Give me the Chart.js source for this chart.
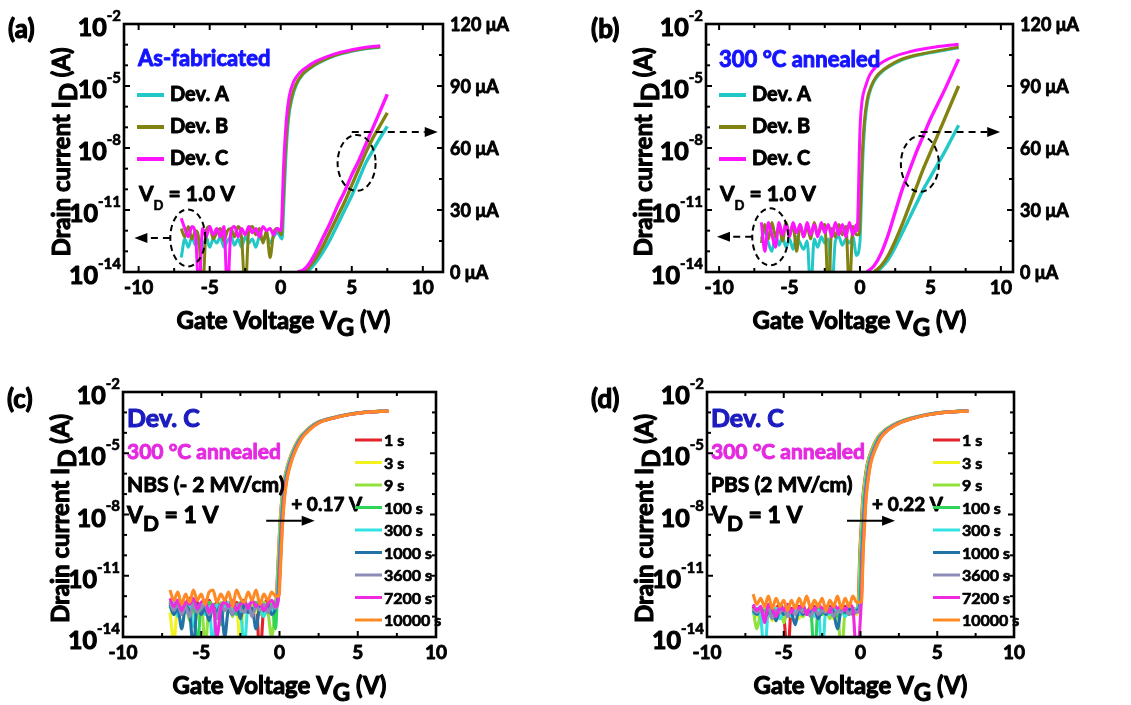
<!DOCTYPE html>
<html>
<head>
<meta charset="utf-8">
<script src="https://cdn.jsdelivr.net/npm/chart.js@4.4.1/dist/chart.umd.min.js"></script>
<style>
  body { margin: 0; background: #fff; width: 1131px; height: 705px; overflow: hidden; position: relative; }
  canvas { position: absolute; }
</style>
</head>
<body>
<canvas id="pa" width="565" height="345" style="left:0;top:0"></canvas>
<canvas id="pb" width="566" height="345" style="left:565px;top:0"></canvas>
<canvas id="pc" width="565" height="360" style="left:0;top:345px"></canvas>
<canvas id="pd" width="566" height="360" style="left:565px;top:345px"></canvas>
<script>
// ---- data (currents on the log axis are written as log10(I / A)) ----
const vOff = [-7,-6.75,-6.5,-6.25,-6,-5.75,-5.5,-5.25,-5,-4.75,-4.5,-4.25,-4,-3.75,
              -3.5,-3.25,-3,-2.75,-2.5,-2.25,-2,-1.75,-1.5,-1.25,-1,-0.75,-0.5,-0.25]

const xTickLabels = [-10, -5, 0, 5, 10]
const xMinorTicks = [-7.5, -2.5, 2.5, 7.5]
const yTickExps = [-14, -11, -8, -5, -2]
const rightTickLabels = [0, 30, 60, 90, 120]

const devNames = ['Dev. A', 'Dev. B', 'Dev. C']
const devColors = ['#22c8c8', '#828210', '#ff14ff']

// (a) as-fabricated
const offA = [
  [-13.3,-12.4,-12.8,-12.3,-12.7,-12.4,-12.9,-12.3,-12.8,-12.4,-12.6,-12.3,-12.8,-12.5,
   -12.3,-12.7,-12.4,-12.8,-12.3,-12.6,-12.4,-12.8,-12.3,-12.5,-12.2,-12.6,-12.3,-12.1],
  [-11.9,-12.3,-11.8,-12.4,-12.0,-12.5,-15,-12.0,-11.8,-12.4,-12.1,-11.9,-12.5,-12.0,
   -11.9,-12.3,-11.8,-12.4,-15,-12.0,-11.8,-12.2,-11.9,-12.6,-12.0,-13.3,-12.1,-11.9],
  [-11.4,-11.9,-12.3,-11.8,-12.2,-15,-11.9,-12.3,-11.8,-12.2,-11.9,-12.3,-11.8,-15,
   -12.0,-11.8,-12.3,-11.9,-12.2,-11.8,-12.1,-11.9,-12.3,-11.8,-12.0,-11.9,-12.2,-11.9]
]
const onVA = [
  [0.1,0.2,0.35,0.55,0.8,1.1,1.55,2.05,2.75,3.85,5.0,6.0,7.0],
  [0.05,0.15,0.3,0.5,0.75,1.05,1.5,2.0,2.7,3.8,5.0,6.0,7.0],
  [0,0.05,0.2,0.4,0.6,0.9,1.35,1.8,2.5,3.7,5.0,6.0,7.0]
]
const onLogA = [
  [-12.4,-11.0,-8.6,-6.6,-5.6,-4.95,-4.45,-4.15,-3.86,-3.53,-3.32,-3.2,-3.12],
  [-12.2,-11.0,-8.6,-6.6,-5.6,-4.95,-4.45,-4.15,-3.85,-3.52,-3.3,-3.18,-3.1],
  [-12.0,-11.8,-8.9,-6.6,-5.5,-4.8,-4.35,-4.1,-3.8,-3.47,-3.25,-3.13,-3.05]
]
const linVA = [
  [1.8,2.0,2.5,3.0,3.5,4.0,4.5,5.0,5.5,6.0,6.5,7.0,7.5],
  [1.7,2.0,2.5,3.0,3.5,4.0,4.5,5.0,5.5,6.0,6.5,7.0,7.5],
  [1.2,1.6,2.0,2.5,3.0,3.5,4.0,4.5,5.0,5.5,6.0,6.5,7.0,7.5]
]
const linIA = [   // uA
  [0,1,5,10,16,23,30,37,45,53,59,65,70.5],
  [0,2.5,7,13,20,27,34,42,50,58,65,71,77],
  [0,1,4,10,17,24,32,39,47,54,62,70,78,86]
]

// (b) 300 C annealed
const offB = [
  [-12.4,-12.0,-12.6,-13.0,-12.2,-12.7,-12.3,-12.8,-12.4,-12.9,-12.3,-12.6,-12.9,-12.5,
   -15,-12.4,-12.8,-12.3,-12.6,-12.4,-15,-12.5,-12.3,-12.7,-12.4,-12.6,-12.3,-13.2],
  [-12.6,-11.7,-12.4,-11.6,-12.3,-11.8,-12.5,-11.6,-12.2,-11.7,-13.0,-11.7,-12.3,-11.8,
   -12.4,-11.6,-12.2,-11.8,-11.7,-15,-11.9,-12.3,-11.7,-12.2,-11.8,-15,-11.8,-12.2],
  [-11.6,-13.0,-11.6,-12.2,-12.8,-11.6,-12.2,-11.7,-12.3,-11.6,-12.1,-11.7,-12.3,-11.6,
   -12.2,-11.7,-12.3,-11.6,-12.1,-11.7,-12.3,-11.6,-12.2,-11.7,-12.3,-11.6,-12.2,-11.7]
]
const onVB = [
  [0.0,0.1,0.2,0.35,0.55,0.85,1.15,1.55,2.05,2.85,4.0,5.5,7.0],
  [-0.05,0.05,0.15,0.3,0.5,0.8,1.1,1.5,2.0,2.8,4.0,5.5,7.0],
  [-0.2,-0.12,-0.05,0.02,0.15,0.4,0.7,1.1,1.7,2.4,3.5,5.0,7.0]
]
const onLogB = [
  [-12.5,-10.5,-8.5,-6.8,-5.7,-5.0,-4.62,-4.32,-4.07,-3.78,-3.53,-3.33,-3.15],
  [-12.2,-10.5,-8.5,-6.8,-5.7,-5.0,-4.6,-4.3,-4.05,-3.75,-3.5,-3.3,-3.12],
  [-12.0,-10.5,-8.3,-6.8,-5.7,-5.0,-4.45,-4.1,-3.8,-3.58,-3.35,-3.15,-2.98]
]
const linVB = [
  [1.2,1.5,2.0,2.5,3.0,3.5,4.0,4.5,5.0,5.5,6.0,6.5,7.0],
  [1.0,1.5,2.0,2.5,3.0,3.5,4.0,4.5,5.0,5.5,6.0,6.5,7.0],
  [0.5,1.0,1.5,2.0,2.5,3.0,3.5,4.0,4.5,5.0,5.5,6.0,6.5,7.0]
]
const linIB = [
  [0,2,6,12,19,26,33,40,46,52,58,64.5,71],
  [0,3,8,15,23,32,41,50,58,66,74,82,90],
  [0,3,9,18,29,40,49,58,66,74,81,88,95.5,103]
]

// (c)/(d) bias stress on Dev. C
const stressTimes = ['1 s', '3 s', '9 s', '100 s', '300 s', '1000 s', '3600 s', '7200 s', '10000 s']
const stressColors = ['#e3222a', '#f2f21e', '#92e03c', '#2fd45a', '#32e2e2', '#2272a8', '#8c8cb6', '#f02ae0', '#ff8a24']
const shiftNBS = [0, 0.02, 0.04, 0.06, 0.08, 0.10, 0.13, 0.15, 0.17]   // V, threshold shift
const shiftPBS = [0, 0.03, 0.05, 0.08, 0.11, 0.14, 0.17, 0.20, 0.22]

const onVC = [-0.2,-0.12,-0.04,0.04,0.18,0.33,0.48,0.73,1.23,1.83,2.38,3.33,4.33,5.33,6.83]
const onLogC = [-12.0,-10.8,-9.5,-8.3,-7.0,-6.2,-5.7,-5.1,-4.3,-3.8,-3.5,-3.27,-3.1,-3.0,-2.93]
const onVD = [-0.15,-0.1,-0.05,0.05,0.15,0.3,0.45,0.75,1.1,1.7,2.4,3.3,4.3,5.3,6.85]
const onLogD = [-12.3,-11.3,-10.0,-8.5,-7.2,-6.2,-5.5,-4.8,-4.25,-3.8,-3.5,-3.27,-3.1,-3.0,-2.93]

const offC = [
  [-12.3,-12.6,-12.2,-12.8,-12.4,-12.1,-12.7,-12.3,-12.9,-12.4,-12.2,-12.6,-12.3,-12.8,
   -12.2,-12.5,-12.9,-12.3,-12.6,-12.2,-12.7,-12.4,-12.3,-15,-12.5,-12.2,-12.6,-12.3],
  [-12.8,-14.2,-12.5,-12.9,-12.3,-12.7,-12.4,-13.1,-12.5,-12.8,-12.3,-12.6,-13.0,-12.4,
   -12.7,-12.3,-12.9,-12.5,-14.4,-12.4,-12.7,-12.3,-12.8,-12.5,-12.4,-12.9,-12.3,-12.6],
  [-12.5,-12.9,-12.3,-12.7,-12.4,-13.2,-12.5,-12.8,-12.3,-14.4,-12.6,-12.4,-12.9,-12.3,
   -12.7,-12.5,-13.0,-12.4,-12.6,-12.3,-12.8,-12.5,-12.4,-12.9,-12.3,-12.7,-14.0,-12.4],
  [-12.2,-12.6,-12.4,-12.9,-12.3,-12.7,-12.2,-14.5,-12.5,-12.8,-12.3,-12.6,-12.4,-13.4,
   -12.3,-12.7,-12.5,-12.9,-12.3,-12.6,-12.4,-13.0,-12.3,-12.7,-12.5,-12.8,-12.4,-13.6],
  [-12.6,-12.3,-13.0,-12.5,-12.8,-12.4,-13.5,-12.6,-12.4,-12.9,-12.5,-14.5,-12.4,-12.8,
   -12.6,-12.3,-12.9,-12.5,-12.7,-14.5,-12.4,-12.8,-12.5,-12.6,-13.0,-12.4,-12.7,-12.5],
  [-12.4,-12.9,-12.6,-13.6,-12.5,-12.8,-14.5,-12.4,-12.9,-12.6,-13.2,-12.5,-12.8,-12.4,
   -14.0,-12.6,-12.9,-12.5,-13.1,-12.4,-12.8,-12.6,-13.6,-12.5,-12.7,-12.4,-12.9,-12.6],
  [-12.3,-12.7,-12.4,-12.9,-12.5,-13.0,-12.4,-12.8,-12.6,-12.4,-12.9,-12.5,-13.1,-12.4,
   -12.7,-12.5,-12.9,-12.4,-12.6,-12.8,-12.4,-13.0,-12.5,-12.7,-12.4,-12.8,-12.5,-12.6],
  [-12.1,-12.5,-12.2,-12.7,-12.3,-12.4,-12.1,-12.6,-12.3,-12.2,-12.8,-12.4,-14.0,-12.6,
   -12.3,-12.5,-12.2,-12.7,-12.4,-12.3,-12.6,-12.2,-12.5,-12.3,-12.7,-12.4,-12.2,-12.5],
  [-11.7,-12.2,-11.8,-12.4,-11.9,-12.3,-11.7,-12.2,-11.9,-12.4,-11.8,-11.7,-12.3,-11.9,
   -12.2,-11.8,-12.5,-11.7,-12.1,-12.3,-11.8,-12.2,-11.7,-12.4,-11.9,-12.2,-11.8,-12.0]
]
const offD = [
  [-12.5,-12.9,-12.6,-13.1,-12.5,-12.8,-12.6,-12.4,-12.9,-15,-12.6,-12.8,-12.5,-12.7,
   -12.9,-12.6,-12.5,-12.8,-12.6,-12.9,-12.5,-12.7,-12.6,-12.8,-12.5,-12.9,-12.6,-12.7],
  [-12.7,-13.0,-12.6,-12.9,-12.7,-13.2,-12.6,-12.8,-13.0,-12.6,-12.9,-12.7,-13.1,-12.6,
   -12.8,-12.7,-13.0,-12.6,-12.9,-12.7,-12.8,-13.1,-12.6,-12.9,-12.7,-12.8,-12.6,-12.9],
  [-12.6,-13.6,-12.8,-12.6,-13.0,-12.7,-12.9,-12.6,-13.3,-12.7,-12.9,-12.6,-12.8,-13.0,
   -12.7,-12.6,-12.9,-12.7,-12.8,-12.6,-13.1,-12.7,-12.6,-15,-12.8,-12.7,-12.9,-12.6],
  [-12.8,-12.6,-13.0,-12.7,-12.9,-12.6,-13.2,-12.7,-12.8,-12.6,-13.0,-12.7,-12.9,-12.6,
   -12.8,-12.7,-15,-12.6,-12.9,-12.7,-12.8,-12.6,-13.0,-12.7,-12.9,-12.6,-12.8,-12.7],
  [-12.9,-12.6,-13.0,-15,-12.7,-12.9,-12.6,-13.1,-12.8,-12.7,-13.0,-12.6,-12.9,-12.7,
   -12.8,-12.6,-13.0,-12.7,-15,-12.6,-12.9,-12.7,-12.8,-12.6,-13.0,-12.7,-12.9,-12.6],
  [-12.7,-12.9,-12.6,-13.0,-12.8,-12.7,-13.2,-12.6,-12.9,-12.7,-12.8,-13.4,-12.6,-12.9,
   -12.7,-12.8,-12.6,-13.1,-12.7,-12.9,-12.6,-12.8,-13.6,-12.7,-12.8,-12.6,-12.9,-12.7],
  [-12.6,-12.8,-12.7,-12.9,-12.6,-13.1,-12.7,-12.8,-12.6,-13.0,-12.7,-12.9,-12.6,-12.8,
   -12.7,-13.0,-12.6,-12.9,-12.7,-12.8,-12.6,-13.0,-12.7,-12.8,-12.6,-12.9,-12.7,-12.8],
  [-12.4,-12.7,-12.5,-13.3,-12.4,-12.6,-13.0,-12.5,-12.7,-12.4,-12.8,-12.5,-12.6,-12.4,
   -12.9,-12.5,-12.7,-12.4,-12.6,-12.5,-12.8,-12.4,-12.6,-12.5,-12.7,-12.4,-12.6,-15],
  [-11.9,-12.4,-12.1,-12.5,-12.0,-12.6,-12.1,-12.5,-12.2,-12.7,-12.2,-12.6,-12.1,-12.5,
   -12.0,-12.6,-12.2,-12.5,-12.1,-12.7,-12.2,-12.5,-12.0,-12.6,-12.1,-12.5,-12.0,-12.3]
]

// ---- helpers ----
const FONT = 'Lato, "Open Sans", sans-serif'

function transfer(offLog, onV, onLog, shift) {
  const pts = vOff.map((v, i) => ({ x: v, y: 10 ** offLog[i] }))
  onV.forEach((v, i) => pts.push({ x: v + (shift || 0), y: 10 ** onLog[i] }))
  return pts
}
function linear(vs, is) {
  return vs.map((v, i) => ({ x: v, y: is[i] }))
}

// text run with per-piece size and vertical offset; a thin stroke makes it as heavy as the original
function rich(ctx, x, y, parts, align, color) {
  ctx.textBaseline = 'middle'
  ctx.textAlign = 'left'
  const widths = parts.map(p => { ctx.font = `bold ${p[1]}px ${FONT}`; return ctx.measureText(p[0]).width })
  const w = widths.reduce((s, v) => s + v, 0)
  let cx = align === 'right' ? x - w : align === 'center' ? x - w / 2 : x
  ctx.fillStyle = color || '#000'
  ctx.strokeStyle = color || '#000'
  ctx.lineJoin = 'round'
  ctx.setLineDash([])
  parts.forEach((p, i) => {
    ctx.font = `bold ${p[1]}px ${FONT}`
    ctx.lineWidth = p[1] * 0.045
    ctx.fillText(p[0], cx, y + (p[2] || 0))
    ctx.strokeText(p[0], cx, y + (p[2] || 0))
    cx += widths[i]
  })
  ctx.strokeStyle = '#000'
  ctx.fillStyle = '#000'
  ctx.lineWidth = 2
}
function seg(ctx, x1, y1, x2, y2) {
  ctx.beginPath(); ctx.moveTo(x1, y1); ctx.lineTo(x2, y2); ctx.stroke()
}
function arrow(ctx, x1, y1, x2, y2, dashed) {
  const ang = Math.atan2(y2 - y1, x2 - x1)
  const hx = x2 - 13 * Math.cos(ang), hy = y2 - 13 * Math.sin(ang)
  ctx.lineWidth = 2
  ctx.setLineDash(dashed ? [7, 5] : [])
  seg(ctx, x1, y1, hx, hy)
  ctx.setLineDash([])
  ctx.beginPath()
  ctx.moveTo(x2, y2)
  ctx.lineTo(hx + 5 * Math.sin(ang), hy - 5 * Math.cos(ang))
  ctx.lineTo(hx - 5 * Math.sin(ang), hy + 5 * Math.cos(ang))
  ctx.closePath(); ctx.fill()
}
function ellipse(ctx, cx, cy, rx, ry) {
  ctx.lineWidth = 2
  ctx.setLineDash([6, 4])
  ctx.beginPath(); ctx.ellipse(cx, cy, rx, ry, 0, 0, Math.PI * 2); ctx.stroke()
  ctx.setLineDash([])
}

// frame, inward ticks, tick labels, axis titles, then the panel's own notes
function decor(spec) {
  return {
    id: 'decor',
    afterDraw(chart) {
      const { ctx, chartArea: a, scales } = chart
      const X = v => scales.x.getPixelForValue(v)
      const Y = e => scales.y.getPixelForValue(10 ** e)
      ctx.save()
      ctx.strokeStyle = '#000'
      ctx.fillStyle = '#000'
      ctx.lineWidth = 2.6
      ctx.strokeRect(a.left, a.top, a.right - a.left, a.bottom - a.top)
      ctx.lineWidth = 2
      xTickLabels.concat(xMinorTicks).forEach(v => {
        const len = xTickLabels.includes(v) ? 6 : 4
        seg(ctx, X(v), a.bottom, X(v), a.bottom - len)
        seg(ctx, X(v), a.top, X(v), a.top + len)
      })
      for (let e = -14; e <= -2; e++) {
        const len = yTickExps.includes(e) ? 6 : 4
        seg(ctx, a.left, Y(e), a.left + len, Y(e))
        if (!spec.right) seg(ctx, a.right, Y(e), a.right - len, Y(e))
      }
      if (spec.right) {
        for (let v = 0; v <= 120; v += 15) {
          const py = scales.y2.getPixelForValue(v)
          seg(ctx, a.right, py, a.right - (rightTickLabels.includes(v) ? 6 : 4), py)
        }
        rightTickLabels.forEach(v => rich(ctx, a.right + 7, scales.y2.getPixelForValue(v) + 1, [[v + ' \u03bcA', 18]], 'left'))
      }
      xTickLabels.forEach(v => rich(ctx, X(v), a.bottom + 16, [[String(v), 19]], 'center'))
      yTickExps.forEach(e => rich(ctx, a.left - 3, Y(e) + 4, [['10', 25], [String(e), 15, -12]], 'right'))

      const midX = (a.left + a.right) / 2
      rich(ctx, midX, a.bottom + 49, [['Gate Voltage V', 24], ['G', 24, 7], [' (V)', 24]], 'center')
      ctx.save()
      ctx.translate(a.left - 62, (a.top + a.bottom) / 2 + 4)
      ctx.rotate(-Math.PI / 2)
      rich(ctx, 0, 0, [['Drain current I', 24], ['D', 24, 7], [' (A)', 24]], 'center')
      ctx.restore()

      rich(ctx, spec.tag[1], spec.tag[2], [[spec.tag[0], 26]], 'left')
      spec.notes(ctx, a, X, Y)
      ctx.restore()
    }
  }
}

function makeChart(id, datasets, xr, spec) {
  const scales = {
    x: { type: 'linear', display: false, min: xr[0], max: xr[1] },
    y: { type: 'logarithmic', display: false, min: 1e-14, max: 1e-2 }
  }
  if (spec.right) scales.y2 = { type: 'linear', display: false, min: 0, max: 120 }
  return new Chart(document.getElementById(id), {
    type: 'line',
    data: { datasets },
    options: {
      responsive: false,
      animation: false,
      devicePixelRatio: 1,
      events: [],
      layout: { padding: spec.pad },
      plugins: { legend: { display: false }, tooltip: { enabled: false } },
      elements: { point: { radius: 0 }, line: { cubicInterpolationMode: 'monotone' } },
      scales
    },
    plugins: [decor(spec)]
  })
}

function devDatasets(off, onV, onLog, linV, linI) {
  const ds = []
  devNames.forEach((name, k) => {
    ds.push({ label: name, data: transfer(off[k], onV[k], onLog[k]), borderColor: devColors[k], borderWidth: 3, yAxisID: 'y', order: 2 - k })
    ds.push({ label: name + ' lin', data: linear(linV[k], linI[k]), borderColor: devColors[k], borderWidth: 3.4, yAxisID: 'y2', order: 2 - k })
  })
  return ds
}
function stressDatasets(off, onV, onLog, shifts) {
  return stressTimes.map((t, k) => ({
    label: t, data: transfer(off[k], onV, onLog, shifts[k]),
    borderColor: stressColors[k], borderWidth: 3.1, yAxisID: 'y', order: 8 - k
  }))
}

function devLegend(ctx, a, dx) {
  devNames.forEach((n, k) => {
    const y = a.top + 71 + k * 32
    ctx.strokeStyle = devColors[k]; ctx.lineWidth = 4
    seg(ctx, a.left + dx, y, a.left + dx + 27, y)
    rich(ctx, a.left + dx + 33, y, [[n, 20]], 'left')
  })
}
function stressLegend(ctx, a, dx) {
  stressTimes.forEach((t, k) => {
    const y = a.top + 48 + k * 22.5
    ctx.strokeStyle = stressColors[k]; ctx.lineWidth = 3
    seg(ctx, a.left + dx, y, a.left + dx + 27, y)
    rich(ctx, a.left + dx + 29, y + 1, [[t, 16]], 'left')
  })
}

makeChart('pa', devDatasets(offA, onVA, onLogA, linVA, linIA), [-11.03, 11.42], {
  pad: { left: 124, top: 24, right: 122, bottom: 73 }, right: true, tag: ['(a)', 8, 30],
  notes(ctx, a, X, Y) {
    rich(ctx, a.left + 14, a.top + 35, [['As-fabricated', 22]], 'left', '#1414ff')
    devLegend(ctx, a, 13)
    rich(ctx, a.left + 15, a.top + 170, [['V', 21], ['D', 13, 12], [' = 1.0 V', 21]], 'left')
    ellipse(ctx, X(-6.54), Y(-12.35), 17.5, 28.5)
    arrow(ctx, X(-7.8), Y(-12.35), X(-10.3), Y(-12.35), true)
    ellipse(ctx, X(5.34), Y(-8.72), 19, 28)
    arrow(ctx, X(5.0), Y(-7.22), X(11.05), Y(-7.22), true)
  }
})

makeChart('pb', devDatasets(offB, onVB, onLogB, linVB, linIB), [-10.93, 10.86], {
  pad: { left: 141, top: 24, right: 118, bottom: 73 }, right: true, tag: ['(b)', 26, 30],
  notes(ctx, a, X, Y) {
    rich(ctx, a.left + 13, a.top + 36, [['300 \u00b0C annealed', 22]], 'left', '#1414ff')
    devLegend(ctx, a, 13)
    rich(ctx, a.left + 14, a.top + 170, [['V', 21], ['D', 13, 12], [' = 1.0 V', 21]], 'left')
    ellipse(ctx, X(-6.37), Y(-12.3), 18, 28.5)
    arrow(ctx, X(-7.65), Y(-12.3), X(-10.15), Y(-12.3), true)
    ellipse(ctx, X(4.25), Y(-8.77), 19, 28)
    arrow(ctx, X(4.3), Y(-7.22), X(9.95), Y(-7.22), true)
  }
})

makeChart('pc', stressDatasets(offC, onVC, onLogC, shiftNBS), [-10, 10], {
  pad: { left: 123, top: 47, right: 129, bottom: 68 }, right: false, tag: ['(c)', 7, 55],
  notes(ctx, a, X, Y) {
    rich(ctx, a.left + 4, a.top + 27, [['Dev. C', 25]], 'left', '#1c1cc0')
    rich(ctx, a.left + 4, a.top + 60, [['300 \u00b0C annealed', 21]], 'left', '#e42ae0')
    rich(ctx, a.left + 4, a.top + 93, [['NBS (- 2 MV/cm)', 21]], 'left')
    rich(ctx, a.left + 4, a.top + 124, [['V', 23], ['D', 21, 8], [' = 1 V', 23]], 'left')
    arrow(ctx, X(-0.85), Y(-8.3), X(2.25), Y(-8.3), false)
    rich(ctx, X(0.75), Y(-7.55), [['+ 0.17 V', 19]], 'left')
    stressLegend(ctx, a, 232)
  }
})

makeChart('pd', stressDatasets(offD, onVD, onLogD, shiftPBS), [-10, 10], {
  pad: { left: 142, top: 47, right: 117, bottom: 68 }, right: false, tag: ['(d)', 26, 55],
  notes(ctx, a, X, Y) {
    rich(ctx, a.left + 4, a.top + 27, [['Dev. C', 25]], 'left', '#1c1cc0')
    rich(ctx, a.left + 4, a.top + 60, [['300 \u00b0C annealed', 21]], 'left', '#e42ae0')
    rich(ctx, a.left + 4, a.top + 93, [['PBS (2 MV/cm)', 21]], 'left')
    rich(ctx, a.left + 4, a.top + 124, [['V', 23], ['D', 21, 8], [' = 1 V', 23]], 'left')
    arrow(ctx, X(-0.88), Y(-8.3), X(2.25), Y(-8.3), false)
    rich(ctx, X(0.75), Y(-7.55), [['+ 0.22 V', 19]], 'left')
    stressLegend(ctx, a, 226)
  }
})
</script>
</body>
</html>
